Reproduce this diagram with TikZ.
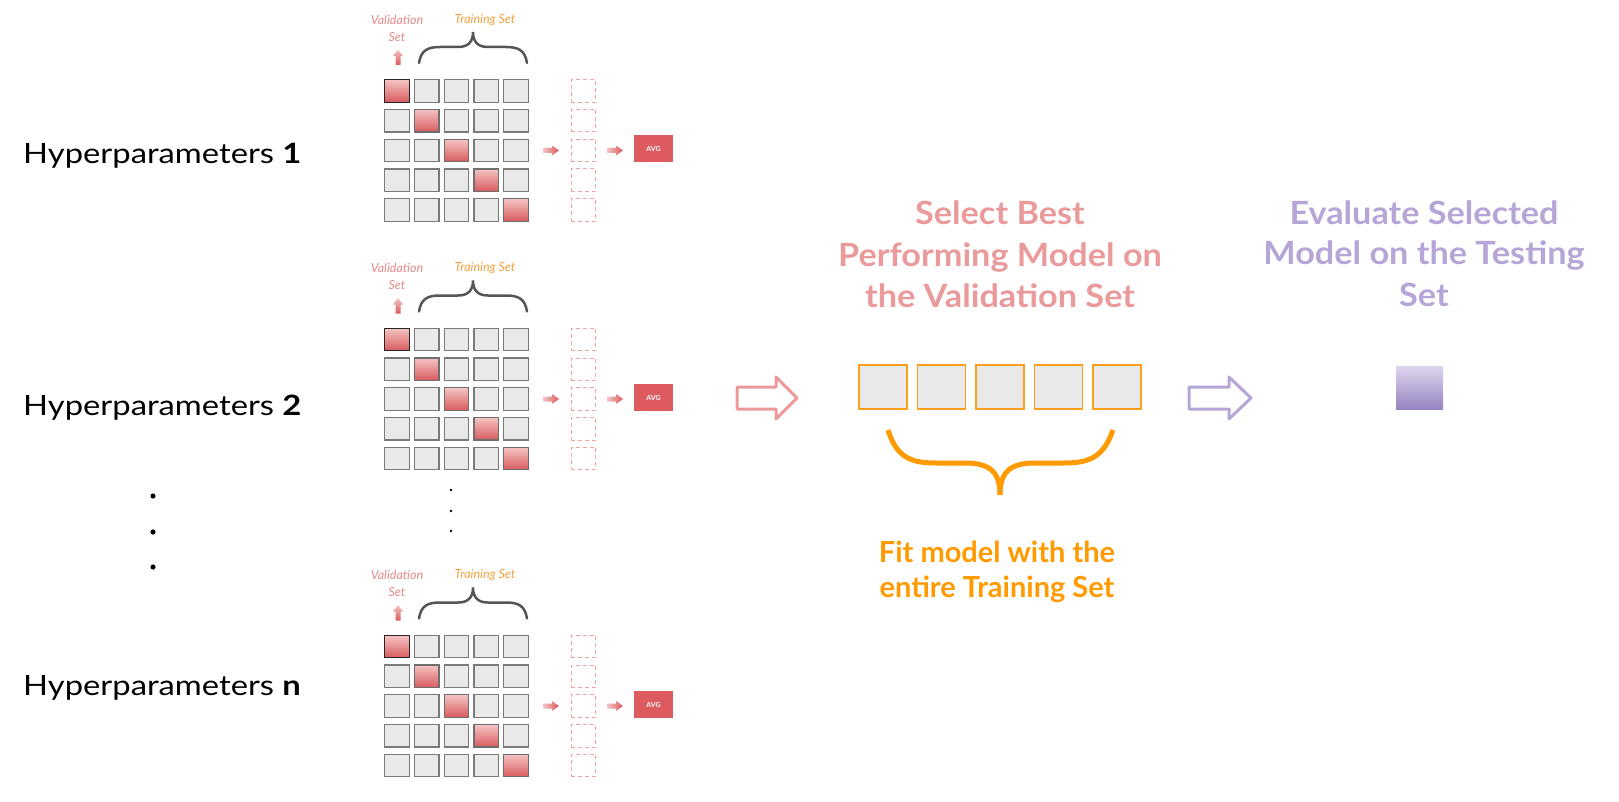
\documentclass[tikz,border=0pt]{standalone}
\usepackage{fontspec}
\setmainfont{Lato}
\newfontfamily\hypfont[FakeStretch=1.17]{Lato}
\newfontfamily\widefont[FakeStretch=1.07]{Lato}
\usetikzlibrary{arrows.meta}
\definecolor{cellfill}{HTML}{E9E9E9}
\definecolor{cellline}{HTML}{7A7A7A}
\definecolor{redtop}{HTML}{F5C4C4}
\definecolor{redbot}{HTML}{D85A5C}
\definecolor{redline}{HTML}{6E6E6E}
\definecolor{avgred}{HTML}{DD5B5E}
\definecolor{dashpink}{HTML}{F0A5A5}
\definecolor{valpink}{HTML}{E58888}
\definecolor{trainorange}{HTML}{F4A040}
\definecolor{selpink}{HTML}{EA9A9A}
\definecolor{evalpurple}{HTML}{B6A6D8}
\definecolor{fitorange}{HTML}{FF9A00}
\definecolor{boxorange}{HTML}{FF9E1B}
\definecolor{bracegray}{HTML}{555555}
\definecolor{sqtop}{HTML}{DED6EE}
\definecolor{sqbot}{HTML}{9683C0}
\begin{document}
\begin{tikzpicture}[x=1pt,y=-1pt,
  cell/.style={draw=cellline, fill=cellfill, line width=1.3pt, minimum width=24.5pt, minimum height=22.5pt, inner sep=0pt},
  redcell/.style={cell, draw=redline, top color=redtop, bottom color=redbot},
  firstcell/.style={redcell, draw=black!85},
  dbox/.style={draw=dashpink, line width=1pt, dash pattern=on 4pt off 3pt, minimum width=24.5pt, minimum height=22.5pt, inner sep=0pt},
  avgbox/.style={fill=avgred, minimum width=39pt, minimum height=27pt, inner sep=0pt, text=white, font=\bfseries\fontsize{7}{8}\selectfont},
  hyp/.style={font=\hypfont\fontsize{28}{30}\selectfont, inner sep=0pt},
  hand/.style={font=\itshape\fontsize{12.5}{17}\selectfont, inner sep=0pt, align=center},
  gbrace/.style={draw=bracegray, line width=2.5pt, line cap=round},
  selt/.style={text=selpink, font=\widefont\bfseries\fontsize{32}{41}\selectfont, inner sep=0pt, anchor=base},
  evalt/.style={text=evalpurple, font=\widefont\bfseries\fontsize{32}{41}\selectfont, inner sep=0pt, anchor=base},
  fitt/.style={text=fitorange, font=\bfseries\fontsize{29}{35}\selectfont, inner sep=0pt, anchor=base},
  mbox/.style={draw=boxorange, fill=cellfill, line width=1.5pt, minimum width=48pt, minimum height=44pt, inner sep=0pt},
  hollow/.style={line width=3pt, line join=round, fill=white}
]
\useasboundingbox (0,0) rectangle (1619,802);

\foreach \k/\dy/\lab/\hb in {1/0/1/164, 2/248.5/2/415, 3/555.5/n/695}{
  \node[hyp, anchor=base west] (hyp\k) at (23,\hb) {Hyperparameters \textbf{\lab}};
  \begin{scope}[yshift=-\dy pt]
    \node[hand, text=valpink] (val\k) at (397,28) {Validation\\Set};
    \node[hand, text=trainorange] (train\k) at (485,20) {Training Set};
    \shade[top color=redtop, bottom color=redbot] (393,56) -- (398,49.5) -- (403,56) -- (400.5,56) -- (400.5,65) -- (395.5,65) -- (395.5,56) -- cycle;
    \draw[gbrace] (419,63) .. controls (421,50) and (428,47) .. (440,47) -- (458,47) .. controls (468,47) and (473,42) .. (473,32)
                  .. controls (473,42) and (478,47) .. (488,47) -- (506,47) .. controls (518,47) and (525,50) .. (527,63);
    \foreach \j in {0,...,4}{
      \foreach \i in {0,...,4}{
        \ifnum\i=\j
          \ifnum\i=0 \def\cs{firstcell}\else\def\cs{redcell}\fi
        \else \def\cs{cell}\fi
        \node[\cs] (c\k-\j-\i) at ({397+29.75*\i},{91+29.75*\j}) {};
      }
      \node[dbox] (d\k-\j) at (583.5,{91+29.75*\j}) {};
    }
    \shade[left color=redtop, right color=redbot] (543,148) -- (552,148) -- (552,145.5) -- (559,150.5) -- (552,155.5) -- (552,153) -- (543,153) -- cycle;
    \shade[left color=redtop, right color=redbot] (607,148) -- (616,148) -- (616,145.5) -- (623,150.5) -- (616,155.5) -- (616,153) -- (607,153) -- cycle;
    \node[avgbox] (avg\k) at (653.5,149) {AVG};
  \end{scope}
}

% dots
\foreach \yy in {496,532,567}{
  \fill (153,\yy) circle (2.6);
}
\foreach \yy in {490,511,531}{
  \fill (451,\yy) circle (1.3);
}

% pink hollow arrow
\draw[hollow, draw=selpink] (737,387) -- (776,387) -- (776,377) -- (797,398) -- (776,419) -- (776,409) -- (737,409) -- cycle;

% middle text
\node[selt] (sel1) at (1000,225) {Select Best};
\node[selt] (sel2) at (1000,266) {Performing Model on};
\node[selt] (sel3) at (1000,307) {the Validation Set};

% middle boxes
\foreach \i in {0,...,4}{
  \node[mbox] (m\i) at ({883+58.5*\i},387) {};
}

% orange brace
\draw[draw=fitorange, line width=5pt] (888,430) .. controls (896,455) and (908,463) .. (935,463) -- (965,463) .. controls (990,463) and (1000,472) .. (1000,495);
\draw[draw=fitorange, line width=5pt] (1000,495) .. controls (1000,472) and (1010,463) .. (1035,463) -- (1065,463) .. controls (1092,463) and (1104,455) .. (1113,430);

\node[fitt] (fit1) at (997,562) {Fit model with the};
\node[fitt] (fit2) at (997,597) {entire Training Set};

% purple hollow arrow
\draw[hollow, draw=evalpurple] (1189,387) -- (1229,387) -- (1229,377) -- (1251,398) -- (1229,419) -- (1229,409) -- (1189,409) -- cycle;

% evaluate text
\node[evalt] (ev1) at (1424,225) {Evaluate Selected};
\node[evalt] (ev2) at (1424,265) {Model on the Testing};
\node[evalt] (ev3) at (1424,306) {Set};

% test square
\shade[top color=sqtop, bottom color=sqbot] (1396,366) rectangle (1443,409);
\end{tikzpicture}
\end{document}
